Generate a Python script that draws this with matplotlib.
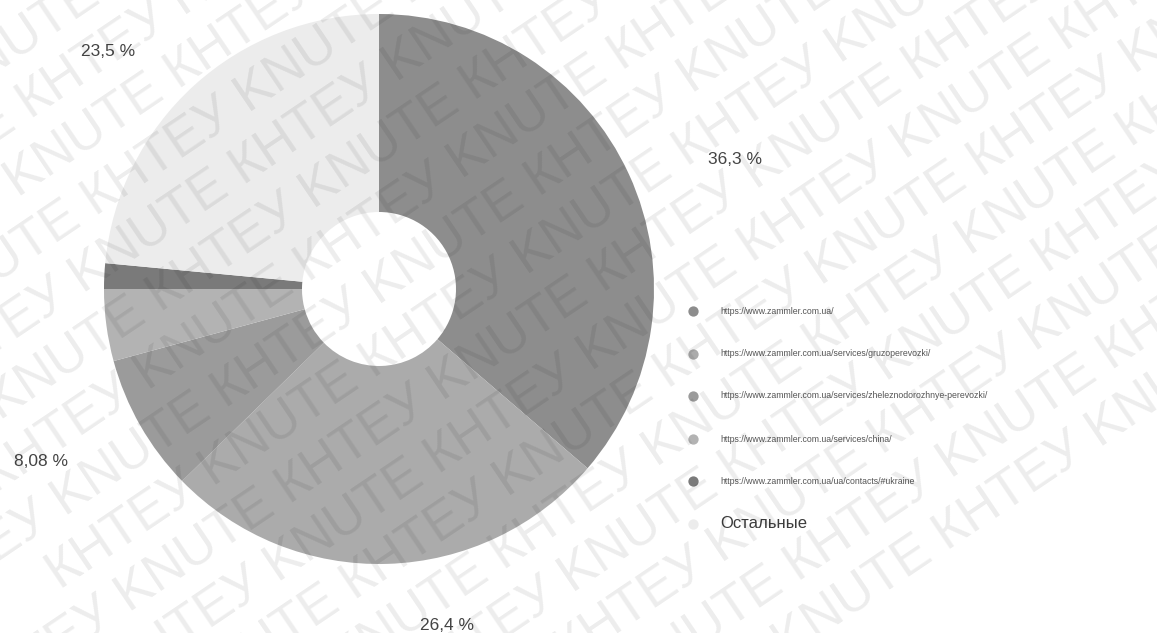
import matplotlib
import numpy as np

matplotlib.use("Agg")

from matplotlib import pyplot as plt  # noqa: E402

# page share per URL (percent)
pages = [
    "https://www.zammler.com.ua/",
    "https://www.zammler.com.ua/services/gruzoperevozki/",
    "https://www.zammler.com.ua/services/zheleznodorozhnye-perevozki/",
    "https://www.zammler.com.ua/services/china/",
    "https://www.zammler.com.ua/ua/contacts/#ukraine",
    "Остальные",
]
shares = [36.3, 26.4, 8.08, 4.22, 1.5, 23.5]
colors = ["#8d8d8d", "#ababab", "#9b9b9b", "#b3b3b3", "#7a7a7a", "#ececec"]

W, H = 1157, 633
CENTER = (379, 289)
R_OUT, R_IN = 275, 77

fig = plt.figure(figsize=(W / 100, H / 100), dpi=100)
ax = fig.add_axes([0, 0, 1, 1])

# y axis runs downward, so startangle -90 / counterclock is clockwise from the top on screen
ax.pie(
    shares,
    colors=colors,
    center=CENTER,
    radius=R_OUT,
    startangle=-90,
    counterclock=True,
    wedgeprops=dict(width=R_OUT - R_IN, linewidth=0),
)
ax.set_xlim(0, W)
ax.set_ylim(H, 0)
ax.set_aspect("auto")
ax.axis("off")

# percentage labels for the bigger slices
label_pos = {0: (735, 160), 1: (447, 625), 2: (41, 461), 5: (108, 52)}
for i, (x, y) in label_pos.items():
    txt = f"{shares[i]:.3g}".replace(".", ",") + " %"
    ax.text(x, y, txt, fontsize=12.5, color="#444444", ha="center", va="center",
            family="Liberation Sans", zorder=5)

# legend
ys = [311, 354, 396, 439, 481, 524]
for i, (name, col) in enumerate(zip(pages, colors)):
    ax.scatter(693, ys[i], s=55, color=col, zorder=5, linewidths=0)
    last = i == len(pages) - 1
    ax.text(720, ys[i], name, fontsize=12 if last else 6.3,
            color="#3c3c3c" if last else "#555555", va="center",
            family="Liberation Sans", zorder=5)

# diagonal watermark
ang = 34
d = np.array([np.cos(np.radians(ang)), -np.sin(np.radians(ang))])
n = np.array([np.sin(np.radians(ang)), np.cos(np.radians(ang))])
row = "КНТЕУ KNUTE " * 7
for k in range(-12, 18):
    p = n * 58 * k - d * 420 + d * (140 if k % 2 else 0)
    ax.text(p[0], p[1], row, rotation=ang, rotation_mode="anchor",
            fontsize=38, color="black", alpha=0.075, family="Liberation Sans",
            ha="left", va="baseline", zorder=10, clip_on=True)

fig.savefig("out.png", dpi=100)
plt.close(fig)
